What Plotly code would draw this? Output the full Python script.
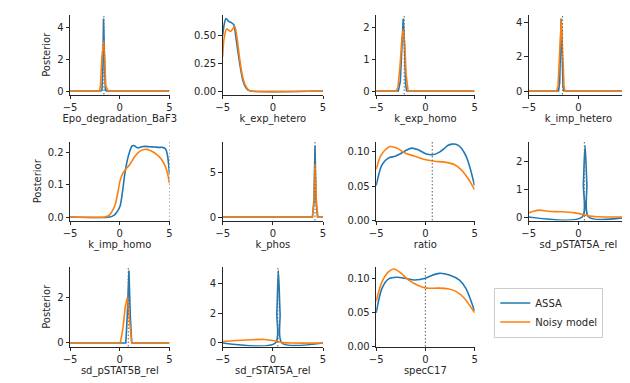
import plotly.graph_objects as go

# ---------------- data ----------------
PARAMS = ["Epo_degradation_BaF3", "k_exp_hetero", "k_exp_homo", "k_imp_hetero",
          "k_imp_homo", "k_phos", "ratio", "sd_pSTAT5A_rel",
          "sd_pSTAT5B_rel", "sd_rSTAT5A_rel", "specC17"]
TRUE_VALUES = [-1.6, None, -2.15, -1.6, 5.0, 4.2, 0.7, 0.6, 0.85, 0.5, 0.0]
SERIES_NAMES = ["ASSA", "Noisy model"]

epo_x_assa = [-5, -1.95, -1.8, -1.7, -1.64, -1.56, -1.45, -1.3, 5]
epo_y_assa = [0, 0, 0.05, 1.5, 4.6, 1.8, 0.05, 0, 0]
epo_x_noisy = [-5, -2.05, -1.95, -1.8, -1.62, -1.5, -1.4, -1.3, -1.15, 5]
epo_y_noisy = [0, 0, 0.3, 2.2, 3.2, 1.6, 0.3, 0.15, 0, 0]

kexhet_x_assa = [-5, -4.85, -4.67, -4.4, -4.17, -3.9, -3.7, -3.5, -3.25, -3.0, -2.75, -2.5, -2.2, 5]
kexhet_y_assa = [0.50, 0.60, 0.655, 0.63, 0.62, 0.60, 0.50, 0.37, 0.22, 0.10, 0.04, 0.01, 0, 0]
kexhet_x_noisy = [-5, -4.85, -4.6, -4.4, -4.2, -4.0, -3.8, -3.6, -3.33, -3.1, -2.83, -2.43, -2.2, 5]
kexhet_y_noisy = [0.31, 0.48, 0.56, 0.55, 0.54, 0.56, 0.585, 0.50, 0.31, 0.17, 0.07, 0.01, 0, 0]

kexhom_x_assa = [-5, -2.75, -2.55, -2.4, -2.25, -2.12, -2.0, -1.9, 5]
kexhom_y_assa = [0, 0, 0.3, 1.4, 2.3, 1.4, 0.2, 0, 0]
kexhom_x_noisy = [-5, -3.0, -2.8, -2.6, -2.4, -2.25, -2.1, -1.95, -1.75, 5]
kexhom_y_noisy = [0, 0, 0.1, 0.7, 1.6, 1.95, 1.5, 0.5, 0, 0]

kimhet_x_assa = [-5, -2.0, -1.88, -1.74, -1.65, -1.55, -1.45, 5]
kimhet_y_assa = [0, 0, 0.5, 4.25, 2.5, 0.3, 0, 0]
kimhet_x_noisy = [-5, -2.2, -2.05, -1.9, -1.72, -1.58, -1.45, -1.35, 5]
kimhet_y_noisy = [0, 0, 0.3, 2.0, 4.2, 2.2, 0.3, 0, 0]

kimhom_x_assa = [-5, -1.0, -0.6, -0.3, 0.03, 0.3, 0.5, 0.75, 1.0, 1.2, 1.4, 1.6, 1.85, 2.2, 2.5,
                 3.0, 3.5, 4.0, 4.3, 4.6, 4.8, 5]
kimhom_y_assa = [0, 0, 0.005, 0.015, 0.034, 0.085, 0.133, 0.175, 0.203, 0.218, 0.221, 0.217, 0.213,
                 0.217, 0.218, 0.217, 0.216, 0.215, 0.215, 0.21, 0.19, 0.133]
kimhom_x_noisy = [-5, -1.5, -1.2, -0.96, -0.7, -0.46, -0.2, 0.03, 0.3, 0.53, 1.03, 1.52, 2.0, 2.35,
                  2.7, 3.0, 3.4, 3.7, 4.0, 4.3, 4.6, 4.8, 5]
kimhom_y_noisy = [0, 0, 0.003, 0.009, 0.022, 0.039, 0.075, 0.113, 0.135, 0.145, 0.163, 0.188, 0.203,
                  0.208, 0.209, 0.206, 0.2, 0.193, 0.185, 0.173, 0.155, 0.135, 0.103]

kphos_x_assa = [-5, 3.95, 4.1, 4.2, 4.3, 4.45, 5]
kphos_y_assa = [0, 0, 2.0, 8.1, 2.0, 0, 0]
kphos_x_noisy = [-5, 3.95, 4.0, 4.1, 4.2, 4.35, 4.5, 5]
kphos_y_noisy = [0, 0, 0.8, 1.5, 6.0, 1.5, 0, 0]

ratio_x_assa = [-5, -4.4, -3.73, -3.07, -2.4, -1.9, -1.4, -0.73, 0.1, 0.77, 1.43, 1.9, 2.27, 2.7,
                3.1, 3.6, 4.0, 4.27, 4.6, 5]
ratio_y_assa = [0.0505, 0.081, 0.0906, 0.093, 0.0977, 0.102, 0.1048, 0.1024, 0.0963, 0.0953, 0.099,
                0.104, 0.1085, 0.1105, 0.1104, 0.1057, 0.097, 0.0883, 0.073, 0.0505]
ratio_x_noisy = [-5, -4.57, -4.07, -3.57, -2.9, -2.07, -1.07, -0.07, 0.93, 1.93, 2.93, 3.6, 4.27, 4.6, 5]
ratio_y_noisy = [0.074, 0.093, 0.1024, 0.1071, 0.1048, 0.0977, 0.093, 0.0883, 0.0859, 0.0845,
                 0.0812, 0.0741, 0.0623, 0.055, 0.0444]

sdp5a_x_assa = [-5, 0.37, 0.5, 0.67, 0.85, 1.03, 5]
sdp5a_y_assa = [0, 0, 1.2, 2.6, 1.2, 0, 0]
sdp5a_x_noisy = [-5, -4.5, -3.9, -3.07, -1.73, -0.4, 0.43, 1.1, 1.93, 5]
sdp5a_y_noisy = [0.15, 0.21, 0.25, 0.21, 0.19, 0.15, 0.095, 0.036, 0.012, 0]

sdp5b_x_assa = [-5, 0.6, 0.75, 0.92, 1.05, 1.2, 5]
sdp5b_y_assa = [0, 0, 1.2, 3.2, 1.2, 0, 0]
sdp5b_x_noisy = [-5, 0.05, 0.3, 0.55, 0.76, 0.95, 1.2, 5]
sdp5b_y_noisy = [0, 0, 0.6, 1.6, 2.0, 1.2, 0, 0]

sdr5a_x_assa = [-5, 0.25, 0.4, 0.55, 0.72, 0.9, 5]
sdr5a_y_assa = [0, 0, 2.0, 4.9, 2.0, 0, 0]
sdr5a_x_noisy = [-5, -2.8, -0.83, 0.17, 0.83, 1.8, 5]
sdr5a_y_noisy = [0.1, 0.2, 0.24, 0.15, 0.04, 0, 0]

spec_x_assa = [-5, -4.4, -3.73, -2.9, -2.07, -1.07, 0, 0.6, 1.43, 2.43, 3.43, 4.1, 5]
spec_y_assa = [0.05, 0.0864, 0.1, 0.1024, 0.101, 0.0985, 0.101, 0.1049, 0.1083, 0.1058, 0.0985,
               0.0864, 0.0524]
spec_x_noisy = [-5, -4.4, -3.73, -3.23, -2.57, -1.73, -0.73, 0.1, 1.27, 2.27, 3.1, 3.93, 5]
spec_y_noisy = [0.067, 0.096, 0.1107, 0.1146, 0.1097, 0.0985, 0.0903, 0.0864, 0.0864, 0.0854,
                0.0816, 0.0718, 0.05]

ASSA_X = [epo_x_assa, kexhet_x_assa, kexhom_x_assa, kimhet_x_assa, kimhom_x_assa, kphos_x_assa,
          ratio_x_assa, sdp5a_x_assa, sdp5b_x_assa, sdr5a_x_assa, spec_x_assa]
ASSA_Y = [epo_y_assa, kexhet_y_assa, kexhom_y_assa, kimhet_y_assa, kimhom_y_assa, kphos_y_assa,
          ratio_y_assa, sdp5a_y_assa, sdp5b_y_assa, sdr5a_y_assa, spec_y_assa]
NOISY_X = [epo_x_noisy, kexhet_x_noisy, kexhom_x_noisy, kimhet_x_noisy, kimhom_x_noisy, kphos_x_noisy,
           ratio_x_noisy, sdp5a_x_noisy, sdp5b_x_noisy, sdr5a_x_noisy, spec_x_noisy]
NOISY_Y = [epo_y_noisy, kexhet_y_noisy, kexhom_y_noisy, kimhet_y_noisy, kimhom_y_noisy, kphos_y_noisy,
           ratio_y_noisy, sdp5a_y_noisy, sdp5b_y_noisy, sdr5a_y_noisy, spec_y_noisy]

X_TICKS = [-5, 0, 5]
X_TICKTEXT = ["\u22125", "0", "5"]
Y_TICKS = [[0, 2, 4], [0, 0.25, 0.5], [0, 1, 2], [0, 2, 4], [0, 0.1, 0.2], [0, 5],
           [0, 0.05, 0.1], [0, 1, 2], [0, 2], [0, 2, 4], [0, 0.05, 0.1]]
Y_TICKTEXT = [["0", "2", "4"], ["0.00", "0.25", "0.50"], ["0", "1", "2"], ["0", "2", "4"],
              ["0.0", "0.1", "0.2"], ["0", "5"], ["0.00", "0.05", "0.10"], ["0", "1", "2"],
              ["0", "2"], ["0", "2", "4"], ["0.00", "0.05", "0.10"]]

# ---------------- style / layout ----------------
W, H = 630, 383
COL_PX = [(56, 157), (211, 313), (367, 467), (522, 623)]
ROW_PX = [(7, 88), (136, 216), (263, 344)]
SMOOTH = [False, True, False, False, True, False, True, True, False, True, True]
BLUE, ORANGE = "#1f77b4", "#ff7f0e"
INK = "#262626"
FONT = "DejaVu Sans"
FS = 10

fig = go.Figure()
layout = dict(
    width=W, height=H, margin=dict(l=0, r=0, t=0, b=0),
    paper_bgcolor="white", plot_bgcolor="white",
    font=dict(family=FONT, size=FS, color=INK),
    showlegend=True,
    legend=dict(x=487 / W, y=1 - 284 / H, xanchor="left", yanchor="top",
                bordercolor="#cccccc", borderwidth=1, bgcolor="white",
                font=dict(size=FS, color=INK), tracegroupgap=0, itemwidth=30),
)
shapes = []

for i, name in enumerate(PARAMS):
    r, c = divmod(i, 4)
    k = "" if i == 0 else str(i + 1)
    xs, ys = ASSA_X[i], ASSA_Y[i]
    xn, yn = NOISY_X[i], NOISY_Y[i]
    shape = "spline" if SMOOTH[i] else "linear"
    fig.add_trace(go.Scatter(x=xs, y=ys, mode="lines", name=SERIES_NAMES[0],
                             line=dict(color=BLUE, width=1.6, shape=shape, smoothing=0.8),
                             xaxis="x" + k, yaxis="y" + k, showlegend=(i == 0),
                             legendgroup="a"))
    fig.add_trace(go.Scatter(x=xn, y=yn, mode="lines", name=SERIES_NAMES[1],
                             line=dict(color=ORANGE, width=1.6, shape=shape, smoothing=0.8),
                             xaxis="x" + k, yaxis="y" + k, showlegend=(i == 0),
                             legendgroup="b"))
    lo = min(min(ys), min(yn))
    hi = max(max(ys), max(yn))
    pad = 0.05 * (hi - lo)
    ymin = min(0.0, lo - pad)
    ymax = hi + pad
    x0, x1 = COL_PX[c]
    y0, y1 = ROW_PX[r]
    layout["xaxis" + k] = dict(
        domain=[x0 / W, x1 / W], range=[-5, 5], anchor="y" + k,
        tickvals=X_TICKS, ticktext=X_TICKTEXT, ticks="outside", ticklen=3.5, tickwidth=0.8,
        tickcolor=INK, showline=True, linecolor=INK, linewidth=0.9, showgrid=False,
        zeroline=False, tickfont=dict(size=FS, color=INK),
        title=dict(text=name, standoff=1, font=dict(size=FS, color=INK)),
    )
    layout["yaxis" + k] = dict(
        domain=[1 - y1 / H, 1 - y0 / H], range=[ymin, ymax], anchor="x" + k,
        tickvals=Y_TICKS[i], ticktext=Y_TICKTEXT[i], ticks="outside", ticklen=3.5,
        tickwidth=0.8, tickcolor=INK, showline=True, linecolor=INK, linewidth=0.9,
        showgrid=False, zeroline=False, tickfont=dict(size=FS, color=INK),
        title=dict(text="Posterior" if c == 0 else "", standoff=4,
                   font=dict(size=FS, color=INK)),
    )
    if TRUE_VALUES[i] is not None:
        shapes.append(dict(type="line", xref="x" + k, yref="y" + k + " domain",
                           x0=TRUE_VALUES[i], x1=TRUE_VALUES[i], y0=0, y1=1,
                           line=dict(color="#6e6e6e", width=1.1, dash="1.5px,2px")))

layout["shapes"] = shapes
fig.update_layout(**layout)
fig.write_html("out.html")
